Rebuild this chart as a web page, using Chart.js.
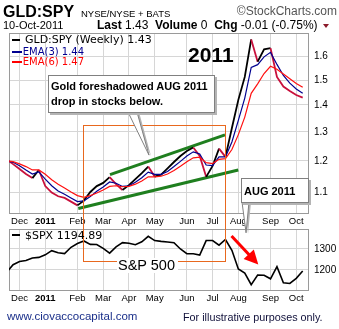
<!DOCTYPE html>
<html>
<head>
<meta charset="utf-8">
<script src="https://cdn.jsdelivr.net/npm/chart.js@4.4.0/dist/chart.umd.min.js"></script>
<style>
body { margin: 0; background: #fff; }
#wrap { position: relative; width: 339px; height: 329px; overflow: hidden; font-family: Arial, "Liberation Sans", sans-serif; color: #000; }
canvas { position: absolute; left: 0; top: 0; }
.t { position: absolute; white-space: nowrap; line-height: 1; }
.dv { font-family: "DejaVu Sans", sans-serif; }
.mk { position: absolute; height: 2px; }
.box { position: absolute; box-sizing: border-box; background: #fff; border: 1px solid #808080; box-shadow: 2px 2px 0 #b4b4b4; font-weight: bold; font-size: 11px; line-height: 15px; white-space: nowrap; }
</style>
</head>
<body>
<div id="wrap">
  <canvas id="top" width="339" height="329"></canvas>
  <canvas id="bot" width="339" height="329"></canvas>
  <canvas id="ann" width="339" height="329"></canvas>

  <div class="t" style="left:3px;top:4px;font-size:16px;font-weight:bold">GLD:SPY</div>
  <div class="t" style="left:81px;top:8.5px;font-size:9.5px">NYSE/NYSE + BATS</div>
  <div class="t" style="right:2px;top:5px;font-size:12px;color:#555">&copy;StockCharts.com</div>
  <div class="t" style="left:3px;top:19.7px;font-size:11px">10-Oct-2011</div>
  <div class="t" style="left:97px;top:19.2px;font-size:12px"><b>Last</b> 1.43 &nbsp;<b>Volume</b> 0 &nbsp;<b>Chg</b> -0.01 (-0.75%)</div>
  <div style="position:absolute;left:323px;top:23.5px;width:0;height:0;border-left:3.5px solid transparent;border-right:3.5px solid transparent;border-top:4px solid #8b1a2a"></div>

  <div class="mk" style="left:12px;top:39px;width:8px;background:#000"></div>
  <div class="t dv" style="left:25px;top:34px;font-size:11px">GLD:SPY (Weekly) 1.43</div>
  <div class="mk" style="left:12px;top:51px;width:10px;background:#000090"></div>
  <div class="t dv" style="left:22.7px;top:46.5px;font-size:10px;color:#000090">EMA(3) 1.44</div>
  <div class="mk" style="left:12px;top:61px;width:10px;background:#ff0000"></div>
  <div class="t dv" style="left:22.7px;top:57px;font-size:10px;color:#ff0000">EMA(6) 1.47</div>

  <div class="t" style="left:188px;top:44px;font-size:21px;font-weight:bold">2011</div>

  <div class="box" style="left:48px;top:75px;width:167px;height:38px;padding:3.4px 0 0 2px">Gold foreshadowed AUG 2011<br>drop in stocks below.</div>
  <div class="box" style="left:241px;top:178px;width:68px;height:25px;padding:4.7px 0 0 2px">AUG 2011</div>

  <div class="t" style="left:117px;top:258.2px;font-size:14.5px;background:#fff;padding:0 3px 0 1px">S&amp;P 500</div>

  <div class="mk" style="left:12px;top:234px;width:8px;background:#000"></div>
  <div class="t dv" style="left:25px;top:229.7px;font-size:11px">$SPX 1194.89</div>

  <div class="t" style="left:7px;top:311px;font-size:11.5px;color:#1a2f8a">www.ciovaccocapital.com</div>
  <div class="t" style="left:183px;top:311.6px;font-size:10.8px;color:#10103a">For illustrative purposes only.</div>
</div>

<script>
"use strict"
// weekly bars, dated by the Monday of each week
const weeks = [
  "2010-11-22", "2010-11-29", "2010-12-06", "2010-12-13", "2010-12-20", "2010-12-27",
  "2011-01-03", "2011-01-10", "2011-01-17", "2011-01-24", "2011-01-31",
  "2011-02-07", "2011-02-14", "2011-02-21", "2011-02-28",
  "2011-03-07", "2011-03-14", "2011-03-21", "2011-03-28",
  "2011-04-04", "2011-04-11", "2011-04-18", "2011-04-25",
  "2011-05-02", "2011-05-09", "2011-05-16", "2011-05-23", "2011-05-30",
  "2011-06-06", "2011-06-13", "2011-06-20", "2011-06-27",
  "2011-07-04", "2011-07-11", "2011-07-18", "2011-07-25",
  "2011-08-01", "2011-08-08", "2011-08-15", "2011-08-22", "2011-08-29",
  "2011-09-05", "2011-09-12", "2011-09-19", "2011-09-26",
  "2011-10-03", "2011-10-10"
];

const ratio = [
  1.204, 1.189, 1.173, 1.157, 1.144, 1.170, 1.119, 1.099, 1.088, 1.083,
  1.072, 1.061, 1.075, 1.101, 1.119, 1.129, 1.147, 1.125, 1.107, 1.122,
  1.141, 1.160, 1.181, 1.149, 1.155, 1.175, 1.196, 1.216, 1.233, 1.245,
  1.216, 1.148, 1.183, 1.241, 1.213, 1.314, 1.420, 1.513, 1.678, 1.578,
  1.633, 1.638, 1.513, 1.473, 1.455, 1.439, 1.429
];

const ema3 = [
  1.200, 1.195, 1.184, 1.170, 1.157, 1.164, 1.141, 1.120, 1.104, 1.094,
  1.083, 1.072, 1.074, 1.087, 1.103, 1.116, 1.132, 1.128, 1.118, 1.120,
  1.131, 1.145, 1.163, 1.156, 1.156, 1.165, 1.181, 1.198, 1.216, 1.230,
  1.223, 1.186, 1.184, 1.213, 1.213, 1.264, 1.342, 1.427, 1.553, 1.565,
  1.599, 1.619, 1.566, 1.519, 1.487, 1.463, 1.446
];

const ema6 = [
  1.200, 1.197, 1.190, 1.181, 1.170, 1.170, 1.156, 1.139, 1.125, 1.113,
  1.101, 1.090, 1.085, 1.090, 1.098, 1.107, 1.118, 1.120, 1.117, 1.118,
  1.125, 1.135, 1.148, 1.148, 1.150, 1.157, 1.168, 1.182, 1.197, 1.210,
  1.212, 1.194, 1.191, 1.205, 1.207, 1.238, 1.290, 1.354, 1.446, 1.484,
  1.527, 1.558, 1.545, 1.525, 1.505, 1.486, 1.470
];

const spx = [
  1189, 1225, 1240, 1245, 1257, 1260, 1272, 1292, 1282, 1278,
  1308, 1326, 1338, 1322, 1321, 1303, 1280, 1310, 1330, 1327,
  1320, 1334, 1360, 1340, 1336, 1333, 1330, 1300, 1278, 1277,
  1271, 1340, 1340, 1318, 1345, 1294, 1205, 1185, 1130, 1176,
  1175, 1158, 1216, 1139, 1136, 1160, 1195
];

const ratioTicks = [1.1, 1.2, 1.3, 1.4, 1.5, 1.6];
const spxTicks = [1200, 1300];

// trend channel drawn on the ratio panel: [week index, ratio]
const upperTrend = [[16.06, 1.155], [33.93, 1.289]];
const lowerTrend = [[11.13, 1.052], [35.99, 1.170]];

const monthNames = ["Jan", "Feb", "Mar", "Apr", "May", "Jun", "Jul", "Aug", "Sep", "Oct", "Nov", "Dec"];

const monthTicks = [];
weeks.forEach((d, i) => {
    if (i > 0 && d.slice(5, 7) !== weeks[i - 1].slice(5, 7)) monthTicks.push(i);
});

function monthLabel(i) {
    const m = parseInt(weeks[i].slice(5, 7));
    return m === 1 ? weeks[i].slice(0, 4) : monthNames[m - 1];
}

const toPoints = arr => arr.map((v, i) => ({ x: i, y: v }));
const pairPoints = arr => arr.map(p => ({ x: p[0], y: p[1] }));

const gridColor = "#d6d6d6";

const framePlugin = {
    id: "frame",
    beforeDatasetsDraw(chart) {
        const { ctx, chartArea: a } = chart;
        ctx.save();
        ctx.strokeStyle = "#9a9a9a";
        ctx.lineWidth = 1;
        ctx.strokeRect(a.left + 0.5, a.top + 0.5, a.width - 1, a.height - 1);
        ctx.restore();
    }
};

function xAxis() {
    return {
        type: "linear",
        min: 0.365,
        max: 46.98,
        afterBuildTicks: s => { s.ticks = monthTicks.map(v => ({ value: v })); },
        afterFit: s => { s.height = 14; },
        ticks: {
            autoSkip: false,
            maxRotation: 0,
            padding: 2,
            color: "#000",
            callback: v => monthLabel(v),
            font: c => ({
                family: "Arial",
                size: 9.5,
                weight: c.tick && c.tick.value === monthTicks[1] ? "bold" : "normal"
            })
        },
        grid: { color: gridColor, drawTicks: false },
        border: { display: false }
    };
}

function yAxis(type, min, max, tickList, fmt) {
    return {
        type: type,
        position: "right",
        min: min,
        max: max,
        afterBuildTicks: s => { s.ticks = tickList.map(v => ({ value: v })); },
        afterFit: s => { s.width = 30; },
        ticks: {
            color: "#000",
            padding: 5,
            callback: fmt,
            font: { family: "Arial", size: 10 }
        },
        grid: { color: gridColor, drawTicks: false },
        border: { display: false }
    };
}

const commonOptions = {
    responsive: false,
    animation: false,
    devicePixelRatio: 1,
    elements: { point: { radius: 0 }, line: { tension: 0 } },
    plugins: { legend: { display: false }, tooltip: { enabled: false } }
};

const topChart = new Chart(document.getElementById("top"), {
    type: "line",
    plugins: [framePlugin],
    data: {
        datasets: [
            { data: toPoints(ema6), borderColor: "#ff1010", borderWidth: 1.2, clip: 0 },
            { data: toPoints(ema3), borderColor: "#000090", borderWidth: 1.2, clip: 0 },
            {
                data: toPoints(ratio),
                borderWidth: 1.8,
                clip: 0,
                segment: {
                    borderColor: c => (c.p1.parsed.y < c.p0.parsed.y ? "#c8103c" : "#000")
                }
            },
            { data: pairPoints(upperTrend), borderColor: "#1f7f1f", borderWidth: 3, clip: 0 },
            { data: pairPoints(lowerTrend), borderColor: "#1f7f1f", borderWidth: 3, clip: 0 }
        ]
    },
    options: {
        ...commonOptions,
        layout: { padding: { left: 9, top: 33, right: 0, bottom: 101 } },
        scales: {
            x: xAxis(),
            y: yAxis("logarithmic", 1.036, 1.708, ratioTicks, v => v.toFixed(1))
        }
    }
});

const botChart = new Chart(document.getElementById("bot"), {
    type: "line",
    plugins: [framePlugin],
    data: {
        datasets: [
            { data: toPoints(spx), borderColor: "#000", borderWidth: 1.6, clip: 0 }
        ]
    },
    options: {
        ...commonOptions,
        layout: { padding: { left: 9, top: 229, right: 0, bottom: 24 } },
        scales: {
            x: xAxis(),
            y: yAxis("linear", 1100, 1395, spxTicks, v => String(v))
        }
    }
});

// annotations: orange frame, callout tails, red arrow
const ctx = document.getElementById("ann").getContext("2d");
const tx = v => topChart.scales.x.getPixelForValue(v);
const ty = v => topChart.scales.y.getPixelForValue(v);
const bx = v => botChart.scales.x.getPixelForValue(v);
const by = v => botChart.scales.y.getPixelForValue(v);

// orange box from the ratio breakout down to the S&P label
const ox0 = Math.round(tx(11.86)) + 0.5;
const ox1 = Math.round(tx(33.93)) + 0.5;
const oy0 = Math.round(ty(1.325)) + 0.5;
const oy1 = Math.round(by(1243)) + 0.5;
ctx.strokeStyle = "#e8681e";
ctx.lineWidth = 1;
ctx.strokeRect(ox0, oy0, ox1 - ox0, oy1 - oy0);

function tail(pts) {
    ctx.beginPath();
    ctx.moveTo(pts[0][0] + 2, pts[0][1]);
    ctx.lineTo(pts[1][0] + 2, pts[1][1] + 1);
    ctx.lineTo(pts[2][0] + 2, pts[2][1]);
    ctx.fillStyle = "#b4b4b4";
    ctx.fill();
    ctx.beginPath();
    ctx.moveTo(pts[0][0], pts[0][1]);
    ctx.lineTo(pts[1][0], pts[1][1]);
    ctx.lineTo(pts[2][0], pts[2][1]);
    ctx.fillStyle = "#fff";
    ctx.fill();
    ctx.strokeStyle = "#808080";
    ctx.lineWidth = 1;
    ctx.stroke();
}
tail([[128, 112], [tx(22.12), ty(1.219)], [137, 112]]);
tail([[242, 202], [bx(37.2), by(1377)], [249, 202]]);

// red arrow in the S&P panel
const ax0 = bx(34.94), ay0 = by(1362);
const ax1 = bx(39.1), ay1 = by(1226);
const ang = Math.atan2(ay1 - ay0, ax1 - ax0);
ctx.strokeStyle = "#ff0000";
ctx.fillStyle = "#ff0000";
ctx.lineWidth = 3;
ctx.beginPath();
ctx.moveTo(ax0, ay0);
ctx.lineTo(ax1 - 10 * Math.cos(ang), ay1 - 10 * Math.sin(ang));
ctx.stroke();
ctx.beginPath();
ctx.moveTo(ax1, ay1);
ctx.lineTo(ax1 - 14 * Math.cos(ang) + 7 * Math.sin(ang), ay1 - 14 * Math.sin(ang) - 7 * Math.cos(ang));
ctx.lineTo(ax1 - 14 * Math.cos(ang) - 7 * Math.sin(ang), ay1 - 14 * Math.sin(ang) + 7 * Math.cos(ang));
ctx.closePath();
ctx.fill();
</script>
</body>
</html>
